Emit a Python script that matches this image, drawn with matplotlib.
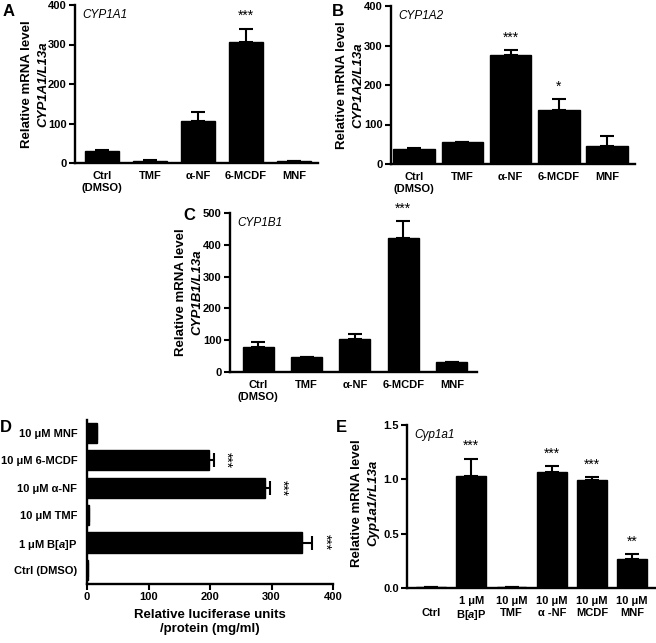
import numpy as np
import matplotlib
matplotlib.use("Agg")
import matplotlib.pyplot as plt

plt.rcParams['font.family'] = ['Liberation Sans', 'DejaVu Sans']
plt.rcParams['font.weight'] = 'bold'
plt.rcParams['mathtext.fontset'] = 'custom'
plt.rcParams['mathtext.it'] = 'Liberation Sans:italic:bold'
plt.rcParams['mathtext.rm'] = 'Liberation Sans:bold'

# data
cats_human = ["Ctrl\n(DMSO)", "TMF", "\u03b1-NF", "6-MCDF", "MNF"]

cyp1a1_mean = [30, 6, 107, 306, 4]
cyp1a1_err = [2, 0.5, 22, 34, 0.5]
cyp1a1_sig = ["", "", "", "***", ""]

cyp1a2_mean = [38, 55, 275, 136, 45]
cyp1a2_err = [2, 1, 13, 29, 25]
cyp1a2_sig = ["", "", "***", "*", ""]

cyp1b1_mean = [80, 47, 105, 422, 30]
cyp1b1_err = [13, 1, 15, 53, 0.5]
cyp1b1_sig = ["", "", "", "***", ""]

luc_cats = ["Ctrl (DMSO)", "1 \u03bcM B[$a$]P", "10 \u03bcM TMF",
            "10 \u03bcM \u03b1-NF", "10 \u03bcM 6-MCDF", "10 \u03bcM MNF"]
luc_mean = [2, 350, 3, 289, 198, 17]
luc_err = [0, 16, 0, 8, 8, 0]
luc_sig = ["", "***", "", "***", "***", ""]

rat_cats = ["\nCtrl", "1 \u03bcM\nB[$a$]P", "10 \u03bcM\nTMF", "10 \u03bcM\n\u03b1 -NF",
            "10 \u03bcM\nMCDF", "10 \u03bcM\nMNF"]
rat_mean = [0.01, 1.03, 0.01, 1.07, 0.99, 0.27]
rat_err = [0, 0.16, 0, 0.05, 0.03, 0.04]
rat_sig = ["", "***", "", "***", "***", "**"]

W, H = 656, 643
fig = plt.figure(figsize=(W / 100, H / 100), dpi=100)


def box(l, r, t, b):
    return [l / W, 1 - b / H, (r - l) / W, (b - t) / H]


def ftxt(x, y, s, **kw):
    fig.text(x / W, 1 - y / H, s, **kw)


def style(ax):
    for s in ["top", "right"]:
        ax.spines[s].set_visible(False)
    for s in ["left", "bottom"]:
        ax.spines[s].set_linewidth(1.7)
    ax.tick_params(width=1.5, length=4, labelsize=8, pad=2)


def vbars(rect, cats, mean, err, sig, ymax, ystep, xlim, width, gene, star_off):
    ax = fig.add_axes(rect)
    x = np.arange(len(cats))
    ax.bar(x, mean, width=width, color="black", edgecolor="black")
    ax.errorbar(x, mean, yerr=[np.zeros(len(err)), err], fmt="none",
                ecolor="black", elinewidth=1.5, capsize=5, capthick=1.5)
    for xi, m, e, s in zip(x, mean, err, sig):
        if s:
            ax.annotate(s, (xi, m + e), xytext=(0, star_off), textcoords="offset points",
                        ha="center", va="center", fontsize=10, fontweight="normal")
    ax.set_xlim(*xlim)
    ax.set_ylim(0, ymax)
    ax.set_yticks(np.arange(0, ymax + ystep / 2, ystep))
    ax.set_xticks(x)
    ax.set_xticklabels(cats, fontsize=7.8, va="top")
    style(ax)
    ax.tick_params(axis="x", length=0, pad=6)
    ax.text(0.03, 0.975, gene, transform=ax.transAxes, ha="left", va="top",
            fontsize=8.5, fontstyle="italic", fontweight="normal")
    return ax


# A
axA = vbars(box(75, 318, 5, 163), cats_human, cyp1a1_mean, cyp1a1_err, cyp1a1_sig,
            400, 100, (-0.5625, 4.5), 0.69, "CYP1A1", 9)
# B
axB = vbars(box(391, 635, 6, 164), cats_human, cyp1a2_mean, cyp1a2_err, cyp1a2_sig,
            400, 100, (-0.48, 4.58), 0.86, "CYP1A2", 9)
# C
axC = vbars(box(230, 477, 213, 372), cats_human, cyp1b1_mean, cyp1b1_err, cyp1b1_sig,
            500, 100, (-0.58, 4.52), 0.64, "CYP1B1", 9)
# E
axE = vbars(box(407, 655, 425, 588), rat_cats, rat_mean, rat_err, rat_sig,
            1.5, 0.5, (-0.6, 5.57), 0.74, "Cyp1a1", 9)
axE.set_yticklabels(["0.0", "0.5", "1.0", "1.5"])

# D (horizontal)
axD = fig.add_axes(box(87, 333, 420, 584))
y = np.arange(len(luc_cats))
axD.barh(y, luc_mean, height=0.73, color="black", edgecolor="black")
axD.errorbar(luc_mean, y, xerr=[np.zeros(len(luc_err)), luc_err], fmt="none",
             ecolor="black", elinewidth=1.5, capsize=5, capthick=1.5)
for yi, m, e, s in zip(y, luc_mean, luc_err, luc_sig):
    if s:
        axD.annotate(s, (m + e, yi), xytext=(9, 0), textcoords="offset points",
                     ha="center", va="center", rotation=-90,
                     fontsize=10, fontweight="normal")
axD.set_xlim(0, 400)
axD.set_ylim(-0.51, 5.46)
axD.set_xticks([0, 100, 200, 300, 400])
axD.set_yticks(y)
axD.set_yticklabels(luc_cats, fontsize=7.3)
style(axD)
axD.tick_params(axis="y", length=0, pad=7)
axD.set_xlabel("Relative luciferase units\n/protein (mg/ml)", fontsize=9.5,
               fontweight="bold", labelpad=5)

# y labels (two lines, second italic)
for x1, x2, yc, gene in [(27, 43, 84, "CYP1A1/L13a"), (342, 358, 85, "CYP1A2/L13a"),
                         (181, 197, 292, "CYP1B1/L13a"), (357, 373, 503, "Cyp1a1/rL13a")]:
    ftxt(x1, yc, "Relative mRNA level", rotation=90, ha="center", va="center",
         fontsize=9.5, fontweight="bold")
    ftxt(x2, yc, gene, rotation=90, ha="center", va="center",
         fontsize=9.5, fontweight="bold", fontstyle="italic")

# panel letters
for lx, ly, lt in [(3, 11, "A"), (332, 11, "B"), (183, 216, "C"), (0, 428, "D"), (336, 428, "E")]:
    ftxt(lx, ly, lt, ha="left", va="center", fontsize=12, fontweight="bold")

fig.savefig("out.png", dpi=100)
